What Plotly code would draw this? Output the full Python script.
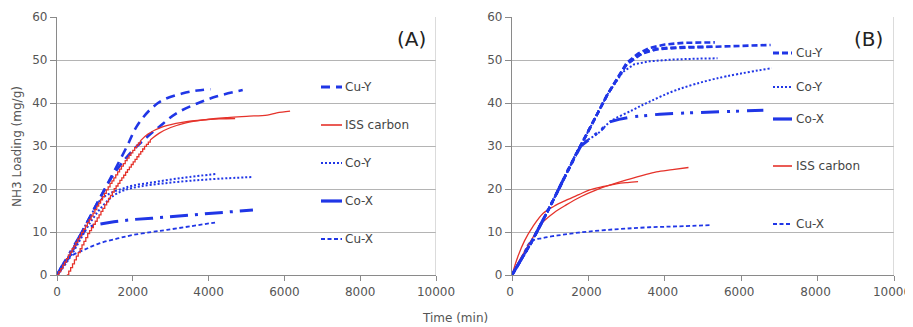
import plotly.graph_objects as go

# page has an 8px body margin: figure is drawn from (8, 8)
PAGE_W, PAGE_H = 913, 327
OFF = 8
W, H = PAGE_W - OFF, PAGE_H - OFF
BLUE = "#2036e6"
RED = "#e5332b"


def fx(px):
    return (px - OFF) / W


def fy(py):
    return 1 - (py - OFF) / H


# ---------------- Panel A data ----------------
a_cuy1_x = [0, 300, 600, 900, 1200, 1500, 1850, 2100, 2450, 2800, 3300, 3700, 4050]
a_cuy1_y = [0, 4, 9, 14, 19, 24, 30, 34.5, 38.4, 40.7, 42.2, 42.9, 43.2]
a_cuy2_x = [0, 300, 600, 900, 1200, 1500, 1800, 2000, 2300, 2700, 3150, 3700, 4200, 4900]
a_cuy2_y = [0, 4, 9, 14, 19, 23.5, 27, 29, 31.5, 34.5, 37.6, 39.9, 41.5, 43]

# ISS carbon: jagged (stepped) early part, then smooth
a_iss1_step_x = list(range(0, 2201, 50))
a_iss1_step_y = [0, 0.8, 1.5, 2.3, 3.0, 3.8, 4.6, 5.3, 6.1, 6.8, 7.6, 8.4, 9.1, 9.9, 10.6,
                 11.4, 12.2, 12.9, 13.7, 14.4, 15.2, 16.0, 16.7, 17.5, 18.2, 19.0, 19.8,
                 20.5, 21.3, 21.9, 22.6, 23.3, 24.0, 24.6, 25.3, 25.9, 26.6, 27.2, 27.8,
                 28.4, 29.0, 29.6, 30.2, 30.7, 31.2]
a_iss1_x = [2200, 2400, 2800, 3300, 3900, 4300, 4700]
a_iss1_y = [31.2, 32.8, 34.5, 35.5, 36.1, 36.3, 36.4]
a_iss2_step_x = list(range(260, 2461, 50))
a_iss2_step_y = [0, 0.9, 1.7, 2.6, 3.5, 4.4, 5.2, 6.1, 7.0, 7.8, 8.7, 9.6, 10.3, 11.0, 11.8,
                 12.5, 13.3, 14.0, 14.8, 15.5, 16.3, 17.0, 17.8, 18.5, 19.3, 20.1, 20.7,
                 21.3, 22.0, 22.6, 23.2, 23.9, 24.5, 25.1, 25.7, 26.3, 26.9, 27.5, 28.1,
                 28.7, 29.3, 29.9, 30.4, 30.9, 31.4]
a_iss2_x = [2460, 2700, 3000, 3400, 3900, 4500, 5000, 5550, 5800, 6150]
a_iss2_y = [31.4, 33.0, 34.3, 35.4, 36.1, 36.6, 36.9, 37.2, 37.7, 38.1]

a_coy1_x = [0, 300, 600, 900, 1150, 1400, 1700, 2000, 2500, 3000, 3500, 4200]
a_coy1_y = [0, 4, 9, 14, 17.5, 19, 20, 20.8, 21.5, 22.2, 22.8, 23.5]
a_coy2_x = [0, 300, 600, 900, 1200, 1500, 1800, 2200, 2800, 3500, 4300, 5170]
a_coy2_y = [0, 3.5, 8, 12.5, 16, 18.5, 19.8, 20.6, 21.3, 21.9, 22.4, 22.8]

a_cox_x = [0, 200, 400, 600, 800, 1100, 1500, 2000, 2500, 3000, 3500, 4000, 4500, 5170]
a_cox_y = [0, 3, 6, 9, 11, 11.8, 12.4, 12.9, 13.2, 13.5, 13.9, 14.3, 14.7, 15.1]

a_cux_x = [0, 150, 350, 700, 1100, 1600, 2000, 2500, 2900, 3500, 4170]
a_cux_y = [0, 2.5, 4.3, 5.8, 7.3, 8.5, 9.3, 10, 10.5, 11.3, 12.2]

# ---------------- Panel B data ----------------
b_cuy1_x = [0, 500, 1000, 1500, 1730, 2000, 2500, 3000, 3300, 3600, 4000, 4500, 5310]
b_cuy1_y = [0, 7.5, 16, 25, 29, 33.5, 42, 49.3, 51.5, 52.8, 53.6, 54, 54.1]
b_cuy2_x = [0, 500, 1000, 1500, 1730, 2000, 2500, 3000, 3300, 3600, 4000, 4500, 5300]
b_cuy2_y = [0, 7.5, 16, 25, 29, 33.5, 42, 49, 51, 52.3, 52.8, 53, 53.1]
b_cuy3_x = [0, 500, 1000, 1500, 1730, 2000, 2500, 3000, 3400, 3800, 4300, 5000, 5800, 6770]
b_cuy3_y = [0, 7.5, 16, 25, 29, 33.5, 42, 49, 51.5, 52.5, 52.8, 53, 53.2, 53.5]

b_coy1_x = [0, 500, 1000, 1500, 1730, 2000, 2500, 2900, 3200, 3600, 4200, 4800, 5380]
b_coy1_y = [0, 7.5, 16, 25, 29, 33.5, 42, 47.2, 49, 49.7, 50.1, 50.3, 50.4]
b_coy2_x = [0, 500, 1000, 1500, 1800, 2300, 2560, 3165, 3600, 4300, 5350, 6800]
b_coy2_y = [0, 7.5, 16, 25, 30, 33.3, 35.6, 38.4, 40.3, 43, 45.7, 48.1]

b_cox_x = [0, 500, 1000, 1500, 1800, 2300, 2560, 2800, 3165, 3870, 4900, 6580]
b_cox_y = [0, 7.5, 16, 25, 30, 33.5, 35.6, 36.2, 36.8, 37.4, 37.8, 38.3]

b_iss1_x = [0, 150, 330, 550, 810, 1100, 1420, 1750, 2035, 2400, 2730, 3020, 3300]
b_iss1_y = [0, 4.2, 8, 11.3, 14.3, 16, 17.4, 18.7, 19.8, 20.6, 21.2, 21.5, 21.7]
b_iss2_x = [0, 200, 400, 600, 810, 1100, 1420, 1800, 2210, 2600, 3000, 3400, 3780, 4200, 4620]
b_iss2_y = [0, 3.5, 6.5, 9.5, 12.3, 14.5, 16.3, 18.2, 19.8, 21, 22.1, 23.1, 24, 24.5, 25]

b_cux_x = [0, 250, 500, 800, 1200, 1600, 2000, 2500, 3000, 3600, 4300, 5230]
b_cux_y = [0, 4, 7.8, 8.6, 9.2, 9.7, 10.1, 10.5, 10.8, 11.1, 11.3, 11.6]

# axis ticks
x_ticks = [0, 2000, 4000, 6000, 8000, 10000]
y_ticks = [0, 10, 20, 30, 40, 50, 60]

# legend labels
legend_a = ["Cu-Y", "ISS carbon", "Co-Y", "Co-X", "Cu-X"]
legend_b = ["Cu-Y", "Co-Y", "Co-X", "ISS carbon", "Cu-X"]

# styles
ST = {
    "a_cuy": dict(color=BLUE, width=2.6, dash="9px,6px"),
    "iss": dict(color=RED, width=1.3),
    "coy": dict(color=BLUE, width=2.0, dash="2px,2px"),
    "a_cox": dict(color=BLUE, width=3.0, dash="18px,7px,3px,7px"),
    "cux": dict(color=BLUE, width=1.8, dash="4px,2.5px"),
    "b_cuy": dict(color=BLUE, width=2.6, dash="6px,3px"),
    "b_cox": dict(color=BLUE, width=3.0, dash="18px,8px,3px,6px,3px,8px"),
}

fig = go.Figure()


def add(x, y, style, ax, shape="linear"):
    xa, ya = ("x", "y") if ax == "A" else ("x2", "y2")
    fig.add_trace(go.Scatter(x=x, y=y, mode="lines", line=dict(**style, shape=shape),
                             xaxis=xa, yaxis=ya, showlegend=False, hoverinfo="skip"))


# panel A
add(a_cux_x, a_cux_y, ST["cux"], "A", shape="spline")
add(a_cox_x, a_cox_y, ST["a_cox"], "A")
add(a_coy1_x, a_coy1_y, ST["coy"], "A", shape="spline")
add(a_coy2_x, a_coy2_y, ST["coy"], "A", shape="spline")
add(a_cuy1_x, a_cuy1_y, ST["a_cuy"], "A", shape="spline")
add(a_cuy2_x, a_cuy2_y, ST["a_cuy"], "A", shape="spline")
add(a_iss1_step_x, a_iss1_step_y, ST["iss"], "A", shape="hv")
add(a_iss1_x, a_iss1_y, ST["iss"], "A", shape="spline")
add(a_iss2_step_x, a_iss2_step_y, ST["iss"], "A", shape="hv")
add(a_iss2_x, a_iss2_y, ST["iss"], "A", shape="spline")

# panel B
add(b_cux_x, b_cux_y, ST["cux"], "B", shape="spline")
add(b_iss1_x, b_iss1_y, ST["iss"], "B", shape="spline")
add(b_iss2_x, b_iss2_y, ST["iss"], "B", shape="spline")
add(b_cox_x, b_cox_y, ST["b_cox"], "B")
add(b_coy1_x, b_coy1_y, ST["coy"], "B")
add(b_coy2_x, b_coy2_y, ST["coy"], "B", shape="spline")
add(b_cuy1_x, b_cuy1_y, ST["b_cuy"], "B")
add(b_cuy2_x, b_cuy2_y, ST["b_cuy"], "B")
add(b_cuy3_x, b_cuy3_y, ST["b_cuy"], "B")

TICKFONT = dict(family="DejaVu Sans, Verdana, sans-serif", size=12, color="#555555")
ydom = [fy(275), fy(17)]


def xax(dom, anchor, shift=0):
    return dict(domain=dom, anchor=anchor, range=[0, 10000], tickvals=x_ticks,
                ticktext=[str(v) for v in x_ticks], showgrid=False, zeroline=False,
                showline=True, linecolor="#8a8a8a", linewidth=1.2, automargin=False,
                ticks="outside", ticklen=5, tickcolor="#8a8a8a", tickfont=TICKFONT,
                ticklabeloverflow="allow", ticklabelshift=shift)


def yax(anchor):
    return dict(domain=ydom, anchor=anchor, range=[0, 60], tickvals=y_ticks,
                ticktext=[str(v) for v in y_ticks], showgrid=True, gridcolor="#b4b4b4",
                gridwidth=1.2, zeroline=False, showline=True, linecolor="#8a8a8a",
                linewidth=1.2, ticks="outside", ticklen=6, tickcolor="#8a8a8a",
                tickfont=TICKFONT, automargin=False, ticklabeloverflow="allow")


fig.update_layout(
    width=W, height=H,
    margin=dict(l=0, r=0, t=0, b=0),
    paper_bgcolor="white", plot_bgcolor="white",
    xaxis=xax([fx(57), fx(436)], "y"),
    yaxis=yax("x"),
    xaxis2=xax([fx(512), fx(894)], "y2", shift=-2),
    yaxis2=yax("x2"),
)

shapes = []
annos = []
# right borders of the plot areas
for xr, yr in (("x", "y domain"), ("x2", "y2 domain")):
    shapes.append(dict(type="line", xref=xr, yref=yr, x0=10000, x1=10000, y0=0, y1=1,
                       line=dict(color="#c4c4c4", width=1.2)))

LEGFONT = dict(family="DejaVu Sans, Verdana, sans-serif", size=12, color="#444444")

leg_a_styles = [dict(color=BLUE, width=3, dash="9px,6px"), dict(color=RED, width=1.6),
                dict(color=BLUE, width=2, dash="2px,2px"), dict(color=BLUE, width=3.2),
                dict(color=BLUE, width=2, dash="4px,2.5px")]
leg_a_y = [87, 125, 163, 201, 239]
for lab, st, py in zip(legend_a, leg_a_styles, leg_a_y):
    yy = fy(py)
    shapes.append(dict(type="line", xref="paper", yref="paper", x0=fx(321), x1=fx(342),
                       y0=yy, y1=yy, line=st))
    annos.append(dict(text=lab, xref="paper", yref="paper", x=fx(343), y=yy,
                      xanchor="left", yanchor="middle", showarrow=False, font=LEGFONT))

leg_b_styles = [dict(color=BLUE, width=2.8, dash="6px,3px"), dict(color=BLUE, width=2, dash="2px,2px"),
                dict(color=BLUE, width=3.2), dict(color=RED, width=1.6),
                dict(color=BLUE, width=2, dash="4px,2.5px")]
leg_b_y = [53, 87, 119, 166, 224]
for lab, st, py in zip(legend_b, leg_b_styles, leg_b_y):
    yy = fy(py)
    shapes.append(dict(type="line", xref="paper", yref="paper", x0=fx(773), x1=fx(792),
                       y0=yy, y1=yy, line=st))
    annos.append(dict(text=lab, xref="paper", yref="paper", x=fx(794), y=yy,
                      xanchor="left", yanchor="middle", showarrow=False, font=LEGFONT))

# panel labels
PFONT = dict(family="DejaVu Sans, Verdana, sans-serif", size=20, color="#222222")
annos.append(dict(text="(A)", xref="paper", yref="paper", x=fx(411), y=fy(39),
                  xanchor="center", yanchor="middle", showarrow=False, font=PFONT))
annos.append(dict(text="(B)", xref="paper", yref="paper", x=fx(868), y=fy(39),
                  xanchor="center", yanchor="middle", showarrow=False, font=PFONT))

# axis titles
annos.append(dict(text="NH3 Loading (mg/g)", xref="paper", yref="paper", x=fx(17),
                  y=fy(147), textangle=-90, xanchor="center", yanchor="middle",
                  showarrow=False, font=TICKFONT))
annos.append(dict(text="Time (min)", xref="paper", yref="paper", x=fx(455), y=fy(318),
                  xanchor="center", yanchor="middle", showarrow=False, font=TICKFONT))

fig.update_layout(shapes=shapes, annotations=annos)
fig.write_html("out.html")
